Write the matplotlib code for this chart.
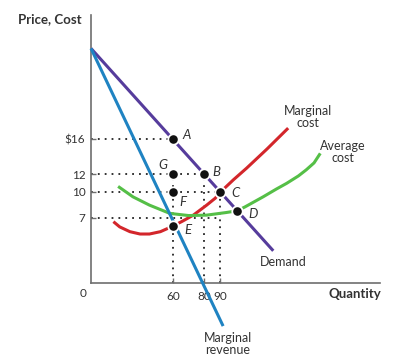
import matplotlib
matplotlib.use('Agg')
import matplotlib.pyplot as plt

plt.rcParams['font.family'] = ['Lato', 'DejaVu Sans']

# ---- data (textbook axis does not start at zero) ----
demand_q = [7.7, 124]
demand_p = [26.46, 3.2]

mr_q = [7.7, 92]
mr_p = [26.46, -5.45]

mc_q = [22, 26, 32.5, 39, 45, 52, 57, 60.5, 65.5, 73, 81.5, 87, 90, 98.5, 107, 120, 133.5]
mc_p = [6.55, 5.95, 5.4, 5.13, 5.13, 5.4, 5.8, 6.1, 6.55, 7.3, 8.45, 9.25, 9.9, 11.35, 12.7, 14.9, 17.3]

ac_q = [25, 34.5, 45, 58, 70, 81.5, 94, 101, 106, 117.5, 126, 132.5, 140, 145, 150, 154]
ac_p = [10.6, 9.4, 8.45, 7.5, 7.25, 7.3, 7.6, 7.8, 8.25, 9.4, 10.3, 10.95, 11.8, 12.5, 13.3, 14.4]

point_names = ['A', 'G', 'B', 'F', 'C', 'D', 'E']
point_q = [60, 60, 80, 60, 90, 101, 60]
point_p = [16, 12, 12, 10, 10, 7.8, 6]

y_ticks = [16, 12, 10, 7]
y_ticklabels = ['$16', '12', '10', '7']
x_ticks = [60, 80, 90]
x_ticklabels = ['60', '80', '90']

# guide lines: (price, quantity reached) and (quantity, price reached)
h_guides = [(16, 60), (12, 80), (10, 90), (7, 89)]
v_guides = [(60, 12), (80, 12), (90, 10)]

XMIN, XMAX = 7.7, 192.1
YMIN, YMAX = -0.5, 30.3

TXT = '#333333'

fig = plt.figure(figsize=(4.04, 3.62), dpi=100)
ax = fig.add_axes([91 / 404, 79 / 362, 289 / 404, 268 / 362])
ax.set_xlim(XMIN, XMAX)
ax.set_ylim(YMIN, YMAX)

for s in ['top', 'right']:
    ax.spines[s].set_visible(False)
for s in ['left', 'bottom']:
    ax.spines[s].set_color('#6e6e6e')
    ax.spines[s].set_linewidth(1.2)

dot_style = dict(color='#222222', linewidth=1.3, linestyle=(0, (1, 2.8)), zorder=1)
for p, q in h_guides:
    ax.plot([XMIN, q], [p, p], **dot_style)
for q, p in v_guides:
    ax.plot([q, q], [YMIN, p], **dot_style)

# ---- curves ----
ax.plot(demand_q, demand_p, color='#563c9c', lw=2.2, zorder=3, solid_capstyle='butt')
ax.plot(mr_q, mr_p, color='#1f83c2', lw=2.2, zorder=3, clip_on=False, solid_capstyle='butt')
ax.plot(mc_q, mc_p, color='#d3262b', lw=2.2, zorder=2, solid_capstyle='butt')
ax.plot(ac_q, ac_p, color='#55bf47', lw=2.2, zorder=2, solid_capstyle='butt')

ax.plot(point_q, point_p, 'o', color='#111111', markersize=7.5,
        markeredgecolor='white', markeredgewidth=1.3, zorder=5, linestyle='none')

# point letters
label_pos = {'A': (69.0, 16.5), 'G': (53.8, 13.1), 'B': (87.9, 12.3), 'F': (66.6, 8.85),
             'C': (99.6, 9.9), 'D': (111.2, 7.4), 'E': (69.8, 5.6)}
for name in point_names:
    lx, ly = label_pos[name]
    ax.text(lx, ly, name, fontsize=9.5, style='italic', color=TXT,
            ha='center', va='center', zorder=6)

# curve labels
lbl = dict(fontsize=9, color=TXT, ha='center', va='center', linespacing=1.0)
ax.text(146.1, 18.6, 'Marginal\ncost', **lbl)
ax.text(168.5, 14.6, 'Average\ncost', **lbl)
ax.text(130.2, 1.9, 'Demand', **lbl)
ax.text(95.1, -7.5, 'Marginal\nrevenue', clip_on=False, **lbl)

# ticks
ax.set_yticks(y_ticks)
ax.set_yticklabels(y_ticklabels)
ax.set_xticks(x_ticks)
ax.set_xticklabels(x_ticklabels)
ax.tick_params(axis='both', direction='in', length=3.5, width=1, color='#6e6e6e',
               labelsize=8.5, labelcolor=TXT)
ax.tick_params(axis='y', pad=4)
ax.tick_params(axis='x', pad=6)

ax.text(-0.028, -0.041, '0', transform=ax.transAxes, fontsize=8.5, color=TXT,
        ha='center', va='center')
fig.text(18 / 404, 1 - 19 / 362, 'Price, Cost', fontsize=9.5, fontweight='bold',
         color=TXT, ha='left', va='center')
fig.text(381 / 404, 1 - 294 / 362, 'Quantity', fontsize=9.5, fontweight='bold',
         color=TXT, ha='right', va='center')

fig.savefig('out.png', dpi=100)
plt.close(fig)
